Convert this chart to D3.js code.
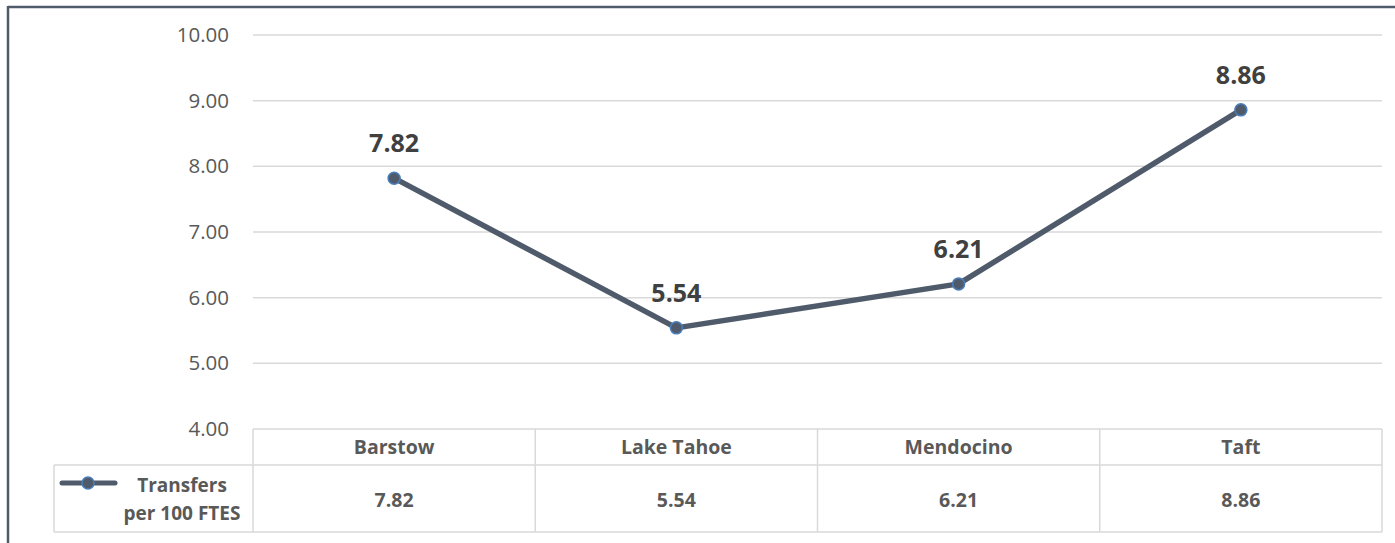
<!DOCTYPE html>
<html>
<head>
<meta charset="utf-8">
<script src="https://d3js.org/d3.v7.min.js"></script>
<style>
  body { margin: 0; background: #fff; }
  text { font-family: "Open Sans", "Noto Sans", sans-serif; }
</style>
</head>
<body>
<svg id="chart" width="1395" height="543"></svg>
<script>
  // data
  const colleges = ["Barstow", "Lake Tahoe", "Mendocino", "Taft"];
  const transfers = [7.82, 5.54, 6.21, 8.86];
  const yTicks = [4, 5, 6, 7, 8, 9, 10];
  const seriesName = ["Transfers", "per 100 FTES"];

  const svg = d3.select("#chart");
  const lineColor = "#4f5b6b";
  const grid = "#d9d9d9";

  // outer frame (top and left edges visible)
  svg.append("line").attr("x1", 8).attr("x2", 1395).attr("y1", 7).attr("y2", 7)
     .attr("stroke", lineColor).attr("stroke-width", 2.5);
  svg.append("line").attr("x1", 8).attr("x2", 8).attr("y1", 6).attr("y2", 543)
     .attr("stroke", lineColor).attr("stroke-width", 2.5);

  const plotLeft = 253, plotRight = 1382;
  const x = d3.scaleBand().domain(colleges).range([plotLeft, plotRight]);
  const y = d3.scaleLinear().domain([4, 10]).range([429, 35]);

  // gridlines
  svg.append("g").selectAll("line").data(yTicks.slice(1)).join("line")
     .attr("x1", plotLeft).attr("x2", plotRight)
     .attr("y1", d => y(d)).attr("y2", d => y(d))
     .attr("stroke", grid).attr("stroke-width", 1.5);

  // y axis labels
  const yAxis = d3.axisLeft(y).tickValues(yTicks).tickFormat(d3.format(".2f")).tickSize(0).tickPadding(0);
  const ya = svg.append("g").attr("transform", "translate(229,0)").call(yAxis);
  ya.select(".domain").remove();
  ya.attr("font-size", null).attr("font-family", null);
  ya.selectAll("text").attr("font-size", 20.5).attr("fill", "#595959");

  // data table
  const rowTop = 429, rowMid = 465, rowBot = 532, legLeft = 54;
  const tbl = svg.append("g").attr("stroke", grid).attr("stroke-width", 1.5).attr("fill", "none");
  tbl.append("line").attr("x1", plotLeft).attr("x2", plotRight).attr("y1", rowTop).attr("y2", rowTop);
  tbl.append("line").attr("x1", legLeft).attr("x2", plotRight).attr("y1", rowMid).attr("y2", rowMid);
  tbl.append("line").attr("x1", legLeft).attr("x2", plotRight).attr("y1", rowBot).attr("y2", rowBot);
  tbl.append("line").attr("x1", legLeft).attr("x2", legLeft).attr("y1", rowMid).attr("y2", rowBot);
  const edges = colleges.map(c => x(c)).concat([plotRight]);
  tbl.selectAll("line.v").data(edges).join("line").attr("class", "v")
     .attr("x1", d => d).attr("x2", d => d).attr("y1", rowTop).attr("y2", rowBot);

  svg.append("g").selectAll("text").data(colleges).join("text")
     .attr("x", d => x(d) + x.bandwidth() / 2).attr("y", 454)
     .attr("text-anchor", "middle").attr("font-size", 19.5).attr("font-weight", "bold")
     .attr("fill", "#595959").text(d => d);

  svg.append("g").selectAll("text").data(transfers).join("text")
     .attr("x", (d, i) => x(colleges[i]) + x.bandwidth() / 2).attr("y", 507)
     .attr("text-anchor", "middle").attr("font-size", 19.5).attr("font-weight", "bold")
     .attr("fill", "#595959").text(d => d3.format(".2f")(d));

  // legend key
  svg.append("line").attr("x1", 62).attr("x2", 115).attr("y1", 483).attr("y2", 483)
     .attr("stroke", lineColor).attr("stroke-width", 5).attr("stroke-linecap", "round");
  svg.append("circle").attr("cx", 88).attr("cy", 483).attr("r", 6)
     .attr("fill", lineColor).attr("stroke", "#4a7ebb").attr("stroke-width", 1.5);
  svg.append("g").selectAll("text").data(seriesName).join("text")
     .attr("x", 182).attr("y", (d, i) => 492 + i * 28)
     .attr("text-anchor", "middle").attr("font-size", 19).attr("font-weight", "bold")
     .attr("fill", "#595959").text(d => d);

  // series line
  const pts = transfers.map((v, i) => [x(colleges[i]) + x.bandwidth() / 2, y(v)]);
  svg.append("path").datum(pts)
     .attr("d", d3.line())
     .attr("fill", "none").attr("stroke", lineColor).attr("stroke-width", 5.5)
     .attr("stroke-linejoin", "round");

  svg.append("g").selectAll("circle").data(pts).join("circle")
     .attr("cx", d => d[0]).attr("cy", d => d[1]).attr("r", 6)
     .attr("fill", lineColor).attr("stroke", "#4a7ebb").attr("stroke-width", 1.5);

  svg.append("g").selectAll("text").data(transfers).join("text")
     .attr("x", (d, i) => pts[i][0]).attr("y", (d, i) => pts[i][1] - 26)
     .attr("text-anchor", "middle").attr("font-size", 25).attr("font-weight", "bold")
     .attr("fill", "#404040").text(d => d3.format(".2f")(d));
</script>
</body>
</html>
